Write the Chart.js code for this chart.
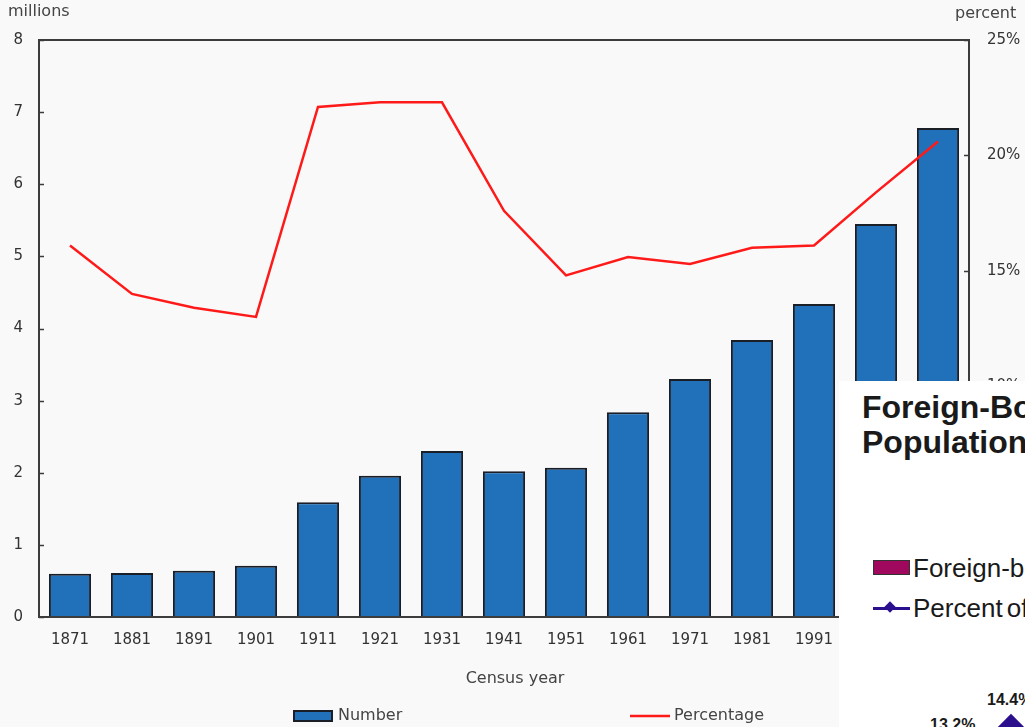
<!DOCTYPE html>
<html lang="en">
<head>
<meta charset="UTF-8">
<title>Foreign-born population, Canada, 1871 to 2011</title>
<script src="https://cdn.jsdelivr.net/npm/chart.js@4.4.1/dist/chart.umd.min.js"></script>
<style>
    html, body { margin: 0; padding: 0; background: #f9f9f9; }
    #wrap { position: relative; width: 1025px; height: 727px; overflow: hidden; }
    #overlay {
        position: absolute; left: 839px; top: 381px; width: 186px; height: 346px;
        background: #fff; overflow: hidden; color: #1a1a1a;
        font-family: "Liberation Sans", Arial, sans-serif;
    }
    #overlay span { position: absolute; white-space: nowrap; line-height: 1; }
    .ttl { font-size: 32px; font-weight: bold; }
    .leg { font-size: 26px; }
    .lbl { font-size: 16px; font-weight: bold; }
    .swatch { position: absolute; left: 34px; top: 179px; width: 35px; height: 13px; background: #a0085e; border: 1px solid #333; }
    .pline { position: absolute; left: 34px; top: 226px; width: 37px; height: 3px; background: #2b0f8c; }
    .pdia { position: absolute; left: 47px; top: 222px; width: 8px; height: 8px; background: #2b0f8c; transform: rotate(45deg); }
    .bigdia { position: absolute; left: 162px; top: 337px; width: 20px; height: 20px; background: #2b0f8c; transform: rotate(45deg); }
</style>
</head>
<body>
<div id="wrap">
    <canvas id="chart" width="1025" height="727"></canvas>
    <div id="overlay">
        <span class="ttl" style="left:23px; top:10px;">Foreign-Born</span>
        <span class="ttl" style="left:23px; top:45px;">Population</span>
        <div class="swatch"></div>
        <span class="leg" style="left:74px; top:174px;">Foreign-born</span>
        <div class="pline"></div>
        <div class="pdia"></div>
        <span class="leg" style="left:74px; top:214px; word-spacing:-3px;">Percent of</span>
        <span class="lbl" style="left:148px; top:311px;">14.4%</span>
        <span class="lbl" style="left:91px; top:336px;">13.2%</span>
        <div class="bigdia"></div>
    </div>
</div>

<script>
    // census years and values
    const years = ['1871', '1881', '1891', '1901', '1911', '1921', '1931', '1941',
                   '1951', '1961', '1971', '1981', '1991', '2001', '2011'];
    const foreignBorn = [0.60, 0.61, 0.64, 0.71, 1.59, 1.96, 2.30, 2.02,
                         2.07, 2.84, 3.30, 3.84, 4.34, 5.45, 6.78];   // millions
    const percentage = [16.1, 14.0, 13.4, 13.0, 22.1, 22.3, 22.3, 17.6,
                        14.8, 15.6, 15.3, 16.0, 16.1, 18.4, 20.6];    // percent
    const millionTicks = [0, 1, 2, 3, 4, 5, 6, 7, 8];
    const percentTicks = [0, 5, 10, 15, 20, 25];

    const textFont = '16px "DejaVu Sans", Verdana, sans-serif';

    // frame, inner tick marks, axis captions and legend
    const decor = {
        id: 'decor',
        afterDatasetsDraw(chart) {
            const {ctx, chartArea: a, scales} = chart;
            ctx.save();
            ctx.strokeStyle = '#3c3c3c';
            ctx.lineWidth = 2;
            ctx.strokeRect(a.left, a.top, a.right - a.left, a.bottom - a.top);
            ctx.lineWidth = 1.5;
            ctx.beginPath();
            millionTicks.forEach(v => {
                const y = Math.round(scales.y.getPixelForValue(v)) + 0.5;
                ctx.moveTo(a.left, y); ctx.lineTo(a.left + 5, y);
            });
            percentTicks.forEach(v => {
                const y = Math.round(scales.y2.getPixelForValue(v)) + 0.5;
                ctx.moveTo(a.right - 5, y); ctx.lineTo(a.right, y);
            });
            ctx.stroke();
            ctx.restore();
        },
        afterDraw(chart) {
            const {ctx, chartArea: a} = chart;
            ctx.save();
            ctx.font = textFont;
            ctx.fillStyle = '#444';
            ctx.textBaseline = 'middle';
            ctx.textAlign = 'left';
            ctx.fillText('millions', 8, 12);
            ctx.fillText('percent', 955, 14);
            ctx.textAlign = 'center';
            ctx.fillText('Census year', (a.left + a.right) / 2 + 11, 679);

            // legend
            const ds = chart.data.datasets;
            const legX = [294, 630];
            const legY = 716;
            ctx.textAlign = 'left';
            ds.forEach((d, i) => {
                const x = legX[i];
                if (d.type === 'line') {
                    ctx.strokeStyle = d.borderColor;
                    ctx.lineWidth = d.borderWidth;
                    ctx.beginPath();
                    ctx.moveTo(x, legY); ctx.lineTo(x + 40, legY);
                    ctx.stroke();
                } else {
                    ctx.fillStyle = d.backgroundColor;
                    ctx.fillRect(x, legY - 5, 38, 10);
                    ctx.strokeStyle = d.borderColor;
                    ctx.lineWidth = 2;
                    ctx.strokeRect(x, legY - 5, 38, 10);
                }
                ctx.fillStyle = '#444';
                ctx.fillText(d.label, x + 44, legY);
            });
            ctx.restore();
        }
    };

    Chart.defaults.font.family = '"DejaVu Sans", Verdana, sans-serif';
    Chart.defaults.font.size = 15;
    Chart.defaults.color = '#333';

    new Chart(document.getElementById('chart'), {
        type: 'bar',
        data: {
            labels: years,
            datasets: [
                {
                    label: 'Number',
                    data: foreignBorn,
                    yAxisID: 'y',
                    backgroundColor: '#2170ba',
                    borderColor: '#1a1e26',
                    borderWidth: 2,
                    barPercentage: 0.85,
                    categoryPercentage: 0.8,
                    order: 2
                },
                {
                    type: 'line',
                    label: 'Percentage',
                    data: percentage,
                    yAxisID: 'y2',
                    borderColor: '#ff1a1a',
                    borderWidth: 2.5,
                    pointRadius: 0,
                    tension: 0,
                    order: 1
                }
            ]
        },
        options: {
            responsive: false,
            animation: false,
            layout: { padding: { top: 40, left: 0, right: 0, bottom: 0 } },
            plugins: {
                legend: { display: false },
                tooltip: { enabled: false }
            },
            scales: {
                x: {
                    grid: { display: false, drawTicks: false },
                    border: { display: false },
                    ticks: { padding: 14, maxRotation: 0, autoSkip: false },
                    afterFit: s => { s.height = 110; }
                },
                y: {
                    position: 'left',
                    min: 0, max: 8,
                    grid: { display: false, drawTicks: false },
                    border: { display: false },
                    ticks: { stepSize: 1, padding: 16 },
                    afterFit: s => { s.width = 39; }
                },
                y2: {
                    position: 'right',
                    min: 0, max: 25,
                    grid: { display: false, drawTicks: false },
                    border: { display: false },
                    ticks: { stepSize: 5, padding: 18, callback: v => v + '%' },
                    afterFit: s => { s.width = 56; }
                }
            }
        },
        plugins: [decor]
    });
</script>
</body>
</html>
